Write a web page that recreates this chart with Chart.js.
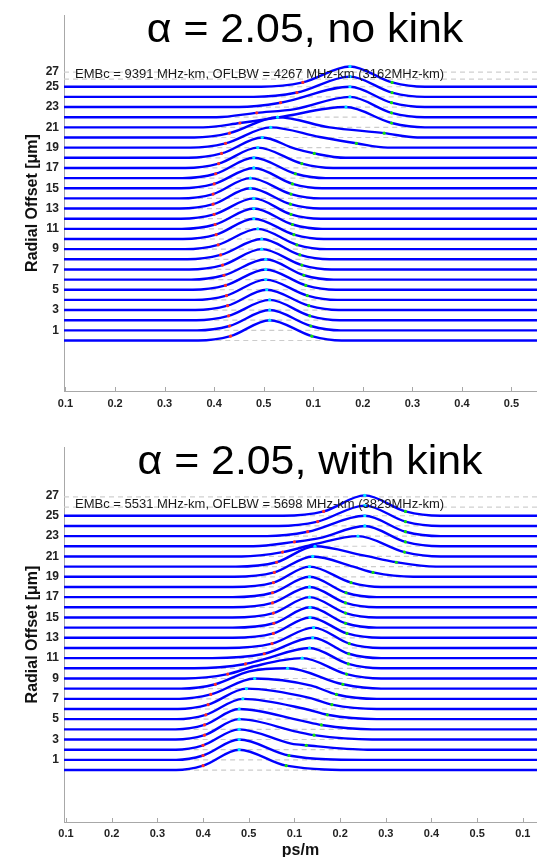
<!DOCTYPE html>
<html>
<head>
<meta charset="utf-8">
<script src="https://cdn.jsdelivr.net/npm/chart.js@4.4.1/dist/chart.umd.min.js"></script>
<style>
  body { margin: 0; width: 537px; height: 857px; overflow: hidden; background: #fff; position: relative;
         font-family: "Liberation Sans", Arial, sans-serif; }
  .box { position: absolute; left: 0; width: 537px; }
  .box canvas { display: block; }
  .ttl { position: absolute; font-size: 41px; line-height: 41px; white-space: nowrap; color: #000;
         transform: translateX(-50%) scaleX(1.045); }
  .note { position: absolute; font-size: 13px; line-height: 13px; white-space: nowrap; color: #1a1a1a; }
</style>
</head>
<body>
<div class="box" style="top:0;height:412px"><canvas id="chartTop" width="537" height="412"></canvas></div>
<div class="box" style="top:430px;height:429px"><canvas id="chartBottom" width="537" height="429"></canvas></div>
<div class="ttl" style="left:305px;top:8px">α = 2.05, no kink</div>
<div class="ttl" style="left:310px;top:440px">α = 2.05, with kink</div>
<div class="note" style="left:75px;top:67px">EMBc = 9391 MHz-km, OFLBW = 4267 MHz-km (3162MHz-km)</div>
<div class="note" style="left:75px;top:497px">EMBc = 5531 MHz-km, OFLBW = 5698 MHz-km (3829MHz-km)</div>
<script>
// radial offsets of the traces (one DMD pulse per offset)
const offsets = [0,1,2,3,4,5,6,7,8,9,10,11,12,13,14,15,16,17,18,19,20,21,22,23,24,25];
const peakLevel = 2.0;   // pulse height in offset units
const edgeLevel = 0.43;  // height of the red / green edge markers

// x ticks (ps/m) and their printed labels
const topTicks = [0.1,0.2,0.3,0.4,0.5,0.6,0.7,0.8,0.9,1.0];
const topTickLabels = ['0.1','0.2','0.3','0.4','0.5','0.1','0.2','0.3','0.4','0.5'];
const botTicks = [0.1,0.2,0.3,0.4,0.5,0.6,0.7,0.8,0.9,1.0,1.1];
const botTickLabels = ['0.1','0.2','0.3','0.4','0.5','0.1','0.2','0.3','0.4','0.5','0.1'];

// y ticks
const topYTicks = [1,3,5,7,9,11,13,15,17,19,21,23,25,26.45];
const botYTicks = [1,3,5,7,9,11,13,15,17,19,21,23,25,27];
const yTickLabels = ['1','3','5','7','9','11','13','15','17','19','21','23','25','27'];

// ---- no kink ----
const topOnset = [0.368,0.366,0.364,0.362,0.360,0.357,0.354,0.350,0.346,0.341,0.337,0.335,0.333,0.331,0.331,0.333,0.336,0.342,0.348,0.352,0.360,0.378,0.405,0.450,0.480,0.495];
const topRise  = [0.433,0.431,0.429,0.427,0.425,0.423,0.420,0.417,0.413,0.408,0.404,0.402,0.400,0.398,0.398,0.400,0.403,0.409,0.415,0.423,0.431,0.452,0.486,0.534,0.567,0.579];
const topPeak  = [0.512,0.512,0.512,0.506,0.504,0.504,0.504,0.496,0.496,0.488,0.480,0.480,0.480,0.473,0.473,0.480,0.480,0.488,0.497,0.514,0.528,0.666,0.674,0.674,0.674,0.674];
const topFall  = [0.597,0.595,0.593,0.591,0.588,0.585,0.581,0.577,0.573,0.567,0.561,0.558,0.555,0.554,0.555,0.558,0.564,0.577,0.602,0.687,0.743,0.758,0.758,0.758,0.759,0.759];
const topEnd   = [0.657,0.655,0.653,0.651,0.648,0.645,0.641,0.637,0.633,0.627,0.621,0.618,0.615,0.614,0.615,0.618,0.625,0.640,0.665,0.750,0.810,0.825,0.825,0.825,0.825,0.825];
const topShoulderX = [null,null,null,null,null,null,null,null,null,null,null,null,null,null,null,null,null,null,0.563,0.613,0.633,0.532,0.563,null,null,null];
const topShoulderH = [null,null,null,null,null,null,null,null,null,null,null,null,null,null,null,null,null,null,0.9,1.05,1.0,1.0,0.8,null,null,null];
const topRefLines = [25.75, 26.45];

// ---- with kink ----
const botOnset = [0.341,0.341,0.340,0.340,0.340,0.342,0.345,0.348,0.352,0.360,0.380,0.420,0.450,0.465,0.465,0.465,0.465,0.465,0.465,0.468,0.472,0.485,0.510,0.540,0.565,0.575];
const botRise  = [0.400,0.400,0.400,0.403,0.403,0.406,0.411,0.417,0.427,0.454,0.493,0.534,0.551,0.554,0.555,0.554,0.552,0.552,0.554,0.556,0.561,0.574,0.600,0.629,0.651,0.664];
const botPeak  = [0.479,0.479,0.479,0.479,0.479,0.487,0.495,0.513,0.585,0.617,0.633,0.640,0.642,0.634,0.634,0.633,0.633,0.633,0.633,0.640,0.645,0.739,0.754,0.754,0.754,0.754];
const botFall  = [0.582,0.588,0.626,0.643,0.659,0.672,0.682,0.692,0.706,0.714,0.718,0.719,0.720,0.715,0.712,0.712,0.712,0.713,0.724,0.772,0.823,0.841,0.843,0.843,0.843,0.843];
const botEnd   = [0.75,0.75,0.76,0.77,0.77,0.78,0.78,0.78,0.79,0.79,0.79,0.79,0.79,0.79,0.78,0.78,0.78,0.78,0.79,0.86,0.91,0.92,0.92,0.92,0.92,0.92];
const botShoulderX = [null,null,0.593,0.607,0.615,0.624,0.633,0.637,0.501,0.512,0.534,null,null,null,null,null,null,null,null,0.729,0.751,0.644,0.655,null,null,null];
const botShoulderH = [null,null,0.6,0.75,0.85,1.0,1.1,1.3,1.7,1.2,0.9,null,null,null,null,null,null,null,null,1.0,1.1,1.2,0.8,null,null,null];
const botRefLines = [25.85, 26.85];

const FONT = '"Liberation Sans", Arial, sans-serif';

const innerTicks = {
  id: 'innerTicks',
  afterDatasetsDraw(chart) {
    const { ctx, chartArea } = chart;
    const x = chart.scales.x;
    ctx.save();
    ctx.strokeStyle = '#a8a8a8';
    ctx.lineWidth = 1;
    x.ticks.forEach((t, i) => {
      const px = Math.round(x.getPixelForTick(i)) + 0.5;
      ctx.beginPath();
      ctx.moveTo(px, chartArea.bottom);
      ctx.lineTo(px, chartArea.bottom - 4);
      ctx.stroke();
    });
    ctx.restore();
  }
};

function makeChart(id, p) {
  const datasets = [];

  p.refLines.forEach(lv => {
    datasets.push({ data: [{x: p.xMin, y: lv}, {x: p.xMax, y: lv}], borderColor: '#cfcfcf',
      borderWidth: 1.2, borderDash: [5, 4], pointRadius: 0, order: 4 });
  });

  offsets.forEach((k, i) => {
    // dashed baseline under each pulse
    datasets.push({ data: [{x: p.onset[i], y: k}, {x: p.end[i], y: k}], borderColor: '#cccccc',
      borderWidth: 1.2, borderDash: [5, 4], pointRadius: 0, order: 3 });

    const pts = [
      {x: p.xMin, y: k}, {x: p.onset[i], y: k},
      {x: p.rise[i], y: k + edgeLevel}, {x: p.peak[i], y: k + peakLevel},
      {x: p.fall[i], y: k + edgeLevel}, {x: p.end[i], y: k}, {x: p.xMax, y: k}
    ];
    if (p.shX[i] !== null) pts.push({x: p.shX[i], y: k + p.shH[i]});
    pts.sort((a, b) => a.x - b.x);
    datasets.push({ data: pts, borderColor: '#0000ff', borderWidth: 2.4, pointRadius: 0,
      cubicInterpolationMode: 'monotone', order: 2 });
  });

  const marker = (xs, lv, color) => ({
    data: offsets.map((k, i) => ({x: xs[i], y: k + lv})),
    showLine: false, pointRadius: 1.6, pointBorderWidth: 0,
    pointBackgroundColor: color, order: 1
  });
  datasets.push(marker(p.rise, edgeLevel, '#ff2a2a'));
  datasets.push(marker(p.peak, peakLevel, '#00e8ff'));
  datasets.push(marker(p.fall, edgeLevel, '#10e010'));

  const noGrid = { display: false, drawTicks: false, tickLength: 0 };

  return new Chart(document.getElementById(id), {
    type: 'line',
    data: { datasets },
    plugins: [innerTicks],
    options: {
      responsive: false,
      animation: false,
      devicePixelRatio: 1,
      layout: { autoPadding: false, padding: { top: p.padTop, left: 0, right: 0, bottom: 0 } },
      plugins: { legend: { display: false }, tooltip: { enabled: false } },
      scales: {
        x: {
          type: 'linear', min: p.xMin, max: p.xMax,
          afterBuildTicks: s => { s.ticks = p.xTicks.map(v => ({ value: v })); },
          afterFit: s => { s.height = p.xHeight; s.paddingLeft = 0; s.paddingRight = 0; },
          grid: noGrid,
          border: { display: true, color: '#a8a8a8', width: 1 },
          ticks: {
            autoSkip: false, maxRotation: 0, padding: p.xPad, color: '#222',
            font: { family: FONT, size: 11, weight: 'bold' },
            callback: (v, i) => p.xLabels[i]
          },
          title: {
            display: p.xTitle !== '', text: p.xTitle, color: '#111',
            font: { family: FONT, size: 16, weight: 'bold', lineHeight: 1 },
            padding: { top: 0, bottom: 0 }
          }
        },
        y: {
          type: 'linear', min: p.yMin, max: p.yMax,
          afterBuildTicks: s => { s.ticks = p.yTicks.map(v => ({ value: v })); },
          afterFit: s => { s.width = 64; s.paddingTop = 0; s.paddingBottom = 0; },
          grid: noGrid,
          border: { display: true, color: '#a8a8a8', width: 1 },
          ticks: {
            padding: 5, color: '#222',
            font: { family: FONT, size: 12, weight: 'bold' },
            callback: (v, i) => yTickLabels[i]
          },
          title: {
            display: true, text: 'Radial Offset [μm]', color: '#111',
            font: { family: FONT, size: 16, weight: 'bold', lineHeight: 1 },
            padding: { top: 25, bottom: 0 }
          }
        }
      }
    }
  });
}

makeChart('chartTop', {
  xMin: 0.097, xMax: 1.0515, yMin: -4.975, yMax: 32.07, padTop: 15, xHeight: 21, xPad: 6,
  xTicks: topTicks, xLabels: topTickLabels, yTicks: topYTicks, xTitle: '',
  onset: topOnset, rise: topRise, peak: topPeak, fall: topFall, end: topEnd,
  shX: topShoulderX, shH: topShoulderH, refLines: topRefLines
});

makeChart('chartBottom', {
  xMin: 0.0956, xMax: 1.131, yMin: -5.11, yMax: 31.76, padTop: 17, xHeight: 37, xPad: 5,
  xTicks: botTicks, xLabels: botTickLabels, yTicks: botYTicks, xTitle: 'ps/m',
  onset: botOnset, rise: botRise, peak: botPeak, fall: botFall, end: botEnd,
  shX: botShoulderX, shH: botShoulderH, refLines: botRefLines
});
</script>
</body>
</html>
